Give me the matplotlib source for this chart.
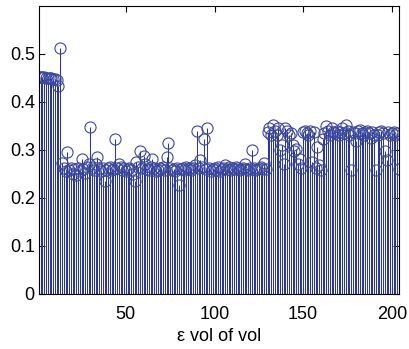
import numpy as np
import matplotlib.pyplot as plt

plt.rcParams['font.family'] = ['Liberation Sans', 'DejaVu Sans']

# stem values, index 1..204
vals_head = [0.452, 0.452, 0.451, 0.451, 0.45, 0.45, 0.449, 0.45, 0.448, 0.447, 0.445,
             0.433, 0.513]
vals_low = [0.272, 0.262, 0.255, 0.296, 0.258, 0.262, 0.25, 0.26, 0.248, 0.262,
            0.255, 0.28, 0.26, 0.252, 0.265, 0.27, 0.347,
            0.262, 0.258, 0.27, 0.285, 0.26, 0.255, 0.262, 0.236, 0.258, 0.262,
            0.265, 0.258, 0.26, 0.322, 0.262, 0.27, 0.265, 0.258, 0.262, 0.256,
            0.26, 0.262, 0.258, 0.25, 0.235, 0.275, 0.265, 0.297, 0.262, 0.288,
            0.27, 0.26, 0.258, 0.265, 0.28, 0.262, 0.255, 0.258, 0.262, 0.26,
            0.265, 0.258, 0.285, 0.315, 0.262, 0.258, 0.26, 0.255, 0.262, 0.226,
            0.26, 0.262, 0.258, 0.265, 0.26, 0.262, 0.258, 0.262, 0.268, 0.34,
            0.262, 0.278, 0.265, 0.322, 0.26, 0.345, 0.262, 0.255, 0.26, 0.262,
            0.258, 0.265, 0.255, 0.26, 0.262, 0.268, 0.26, 0.265, 0.258, 0.262,
            0.26, 0.265, 0.262, 0.258, 0.26, 0.262, 0.27, 0.26, 0.258, 0.262,
            0.3, 0.262, 0.258, 0.26, 0.262, 0.265, 0.26, 0.272, 0.26]
vals_high = [0.338, 0.345, 0.33, 0.352, 0.34, 0.33, 0.345, 0.3, 0.31, 0.27,
             0.345, 0.34, 0.33, 0.335, 0.31, 0.298, 0.302, 0.27, 0.28, 0.262, 0.338,
             0.34, 0.335, 0.332, 0.34, 0.275, 0.338, 0.262, 0.305, 0.268, 0.258,
             0.322, 0.335, 0.35, 0.34, 0.33, 0.345, 0.338, 0.335, 0.34, 0.33,
             0.338, 0.345, 0.335, 0.352, 0.34, 0.33, 0.258, 0.338, 0.335, 0.318,
             0.34, 0.342, 0.335, 0.33, 0.338, 0.34, 0.335, 0.325, 0.338, 0.332,
             0.258, 0.33, 0.338, 0.34, 0.335, 0.298, 0.278, 0.338, 0.332, 0.335,
             0.338, 0.33, 0.335, 0.26]
values = vals_head + vals_low + vals_high
idx = np.arange(1, len(values) + 1)

col = '#2a3796'

fig = plt.figure(figsize=(4.1, 3.49), dpi=100)
ax = fig.add_axes([0.095, 0.158, 0.878, 0.825])

markers, stems, base = ax.stem(idx, values, basefmt=' ')
plt.setp(stems, color=col, linewidth=0.75)
plt.setp(markers, color='#3a48a0', markerfacecolor='none', markersize=8,
         markeredgewidth=0.8)

ax.set_xlim(1, len(values))
ax.set_ylim(0, 0.6)
ax.set_xticks([50, 100, 150, 200])
ax.set_yticks([0, 0.1, 0.2, 0.3, 0.4, 0.5])
ax.set_yticklabels(['0', '0.1', '0.2', '0.3', '0.4', '0.5'])
ax.tick_params(direction='in', top=True, right=True, labelsize=13, length=4,
               pad=3)
ax.tick_params(axis='x', pad=9)
ax.set_xlabel('ε vol of vol', fontsize=13, labelpad=3)

fig.savefig('out.png', dpi=100)
